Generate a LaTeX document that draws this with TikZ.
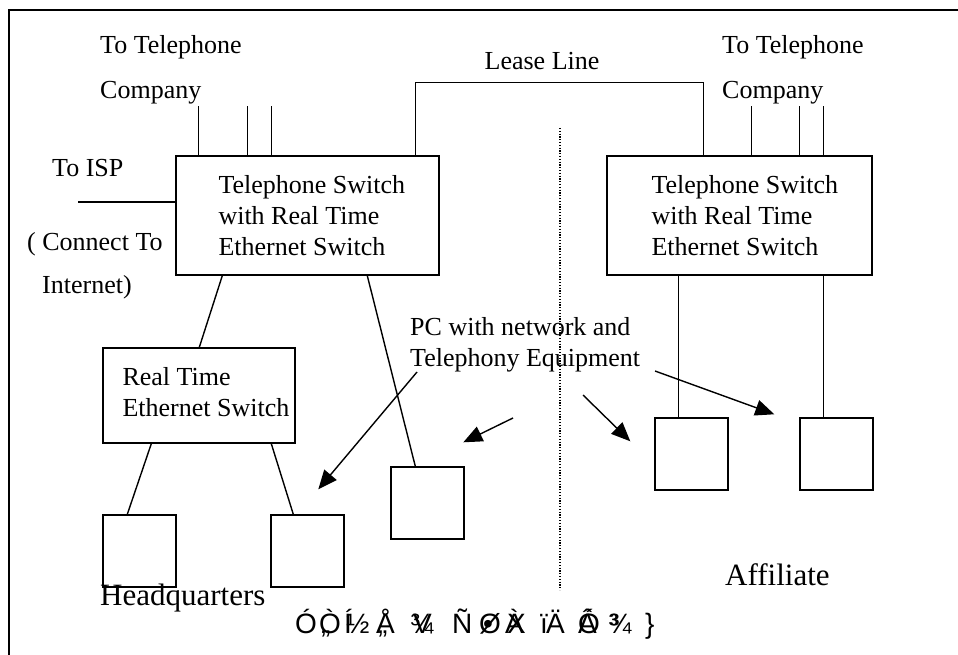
\documentclass[tikz,border=0pt]{standalone}
\usepackage{fontspec}
\setmainfont{Liberation Serif}
\newfontfamily\garbfont{Liberation Sans}
\usetikzlibrary{arrows.meta}
\begin{document}
\begin{tikzpicture}[x=1pt,y=-1pt,
  ln/.style={line width=1.4pt},
  boxnode/.style={draw,line width=1.4pt,inner sep=0pt,rectangle},
  pcbox/.style={boxnode,minimum width=73pt,minimum height=72pt},
  txt/.style={inner sep=0pt,font=\fontsize{26}{31}\selectfont},
  bigtxt/.style={inner sep=0pt,font=\fontsize{31}{36}\selectfont},
  garb/.style={inner sep=0pt,font=\garbfont\fontsize{28}{32}\selectfont},
  arr/.style={line width=1.4pt,-{Triangle[length=19pt,width=16pt]}},
  sep/.style={line width=1.3pt,dash pattern=on 1.2pt off 1.6pt}
]
\useasboundingbox (0,0) rectangle (958,655);
% frame
\draw[line width=1.6pt] (9,655) -- (9,10) -- (958,10);

% boxes
\node[boxnode,minimum width=263pt,minimum height=119pt] (ts1) at (307.5,215.5) {};
\node[boxnode,minimum width=265pt,minimum height=119pt] (ts2) at (739.5,215.5) {};
\node[boxnode,minimum width=192pt,minimum height=95pt] (rt) at (199,395.5) {};
\node[pcbox] (pc1) at (139.5,551) {};
\node[pcbox] (pc2) at (307.5,551) {};
\node[pcbox] (pc3) at (427.5,503) {};
\node[pcbox] (pc4) at (691.5,454) {};
\node[pcbox] (pc5) at (836.5,454) {};

% box texts
\node[txt,anchor=west,align=left] (ts1t) at ([xshift=43pt]ts1.west) {Telephone Switch\\with Real Time\\Ethernet Switch};
\node[txt,anchor=west,align=left] (ts2t) at ([xshift=45pt]ts2.west) {Telephone Switch\\with Real Time\\Ethernet Switch};
\node[txt,anchor=west,align=left] (rtt) at ([xshift=20pt,yshift=3pt]rt.west) {Real Time\\Ethernet Switch};

% labels
\node[txt,anchor=base west] (tel1a) at (100,54) {To Telephone};
\node[txt,anchor=base west] (tel1b) at (100,99) {Company};
\node[txt,anchor=base west] (tel2a) at (722,54) {To Telephone};
\node[txt,anchor=base west] (tel2b) at (722,99) {Company};
\node[txt,anchor=base] (lease) at (542,70) {Lease Line};
\node[txt,anchor=base west] (isp) at (52,177) {To ISP};
\node[txt,anchor=base west] (conn) at (27,250) {( Connect To};
\node[txt,anchor=base west] (inet) at (42,293) {Internet)};
\node[txt,anchor=north west,align=left] (pct) at (410,317) {PC with network and\\Telephony Equipment};
\node[bigtxt,anchor=base west] (hq) at (100,605) {Headquarters};
\node[bigtxt,anchor=base west] (aff) at (725,585) {Affiliate};
\node[garb,anchor=base west] (garbled) at (295,633) {%
\makebox[24pt][l]{Ó}%
\makebox[25pt][l]{\rlap{Ò}\hspace{2pt}„}%
\makebox[32pt][l]{\rlap{Í}\hspace{2pt}½}%
\makebox[34pt][l]{\rlap{Å}\hspace{2pt}„}%
\makebox[42pt][l]{\rlap{\hspace{3pt}V}¾}%
\makebox[27pt][l]{Ñ}%
\makebox[26pt][l]{\rlap{Ø}\hspace{4pt}•}%
\makebox[35pt][l]{\rlap{À}\hspace{2pt}X}%
\makebox[38pt][l]{ï\hspace{-2pt}Ä}%
\makebox[30pt][l]{\rlap{Ó}Â}%
\makebox[37pt][l]{\rlap{\hspace{2pt}³}¾}%
\}};

% connectors
\draw[ln] ([xshift=23pt]ts1.north west) -- ++(0,-49);
\draw[ln] ([xshift=72pt]ts1.north west) -- ++(0,-49);
\draw[ln] ([xshift=96pt]ts1.north west) -- ++(0,-49);
\draw[ln] ([xshift=145pt]ts2.north west) -- ++(0,-49);
\draw[ln] ([xshift=193pt]ts2.north west) -- ++(0,-49);
\draw[ln] ([xshift=217pt]ts2.north west) -- ++(0,-49);
\draw[ln] ([xshift=240pt]ts1.north west) -- ++(0,-73) -| ([xshift=97pt]ts2.north west);
\draw[ln] ([yshift=13.5pt]ts1.west) -- ++(-97,0);
\draw[ln] ([xshift=47pt]ts1.south west) -- ([xshift=97pt]rt.north west);
\draw[ln] ([xshift=192pt]ts1.south west) -- ([xshift=25pt]pc3.north west);
\draw[ln] ([xshift=49pt]rt.south west) -- ([xshift=25pt]pc1.north west);
\draw[ln] ([xshift=169pt]rt.south west) -- ([xshift=23pt]pc2.north west);
\draw[ln] ([xshift=72pt]ts2.south west) -- ([xshift=24pt]pc4.north west);
\draw[ln] ([xshift=217pt]ts2.south west) -- ([xshift=24pt]pc5.north west);

% separator
\coordinate (septop) at (560,128);
\coordinate (sepbot) at (560,590);
\draw[sep] (septop) -- (sepbot);

% arrows
\coordinate (a1) at (417,372);
\coordinate (a2) at (513,418);
\coordinate (a3) at (583,395);
\coordinate (a4) at (655,371);
\draw[arr] (a1) -- ([xshift=48pt,yshift=25pt]pc2.north west);
\draw[arr] (a2) -- ([xshift=73pt,yshift=24pt]pc3.north west);
\draw[arr] (a3) -- ([xshift=-24pt,yshift=-24pt]pc4.north west);
\draw[arr] (a4) -- ([xshift=-25pt,yshift=3pt]pc5.north west);
\end{tikzpicture}
\end{document}
